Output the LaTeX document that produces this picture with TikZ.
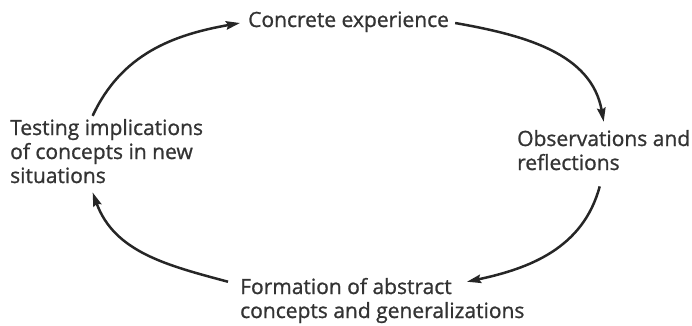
\documentclass[tikz,border=0pt]{standalone}
\usepackage{fontspec}
\newfontfamily\stagefont{Open Sans}[FakeBold=1]
\usetikzlibrary{arrows.meta}
\begin{document}
\begin{tikzpicture}[x=1pt,y=1pt,
  stage/.style={anchor=base west,align=left,inner sep=0pt,text=black!80,font=\stagefont\fontsize{21}{24}\selectfont},
  cyc/.style={line width=2.5pt,black!85,-{Stealth[length=14pt,width=8.5pt,inset=2pt]}}]
\useasboundingbox (0,0) rectangle (692,325);
\node[stage] (conc) at (248,298) {Concrete experience};
\node[stage] (obs) at (517,155) {Observations and\\reflections};
\node[stage] (form) at (240,7) {Formation of abstract\\concepts and generalizations};
\node[stage] (test) at (10,142) {Testing implications\\of concepts in new\\situations};
\draw[cyc] ([xshift=6pt,yshift=4pt]conc.base east) to[out=-10,in=100] ([yshift=8pt]obs.north);
\draw[cyc] ([xshift=-4pt,yshift=-16pt]obs.south) to[out=-105,in=12] ([xshift=227pt,yshift=-4pt]form.north west);
\draw[cyc] ([xshift=-12pt,yshift=-4pt]form.north west) to[out=165,in=-70] ([xshift=-14pt,yshift=-9pt]test.south);
\draw[cyc] ([xshift=-14pt,yshift=3pt]test.north) to[out=65,in=190] ([xshift=-8pt,yshift=4pt]conc.base west);
\end{tikzpicture}
\end{document}
